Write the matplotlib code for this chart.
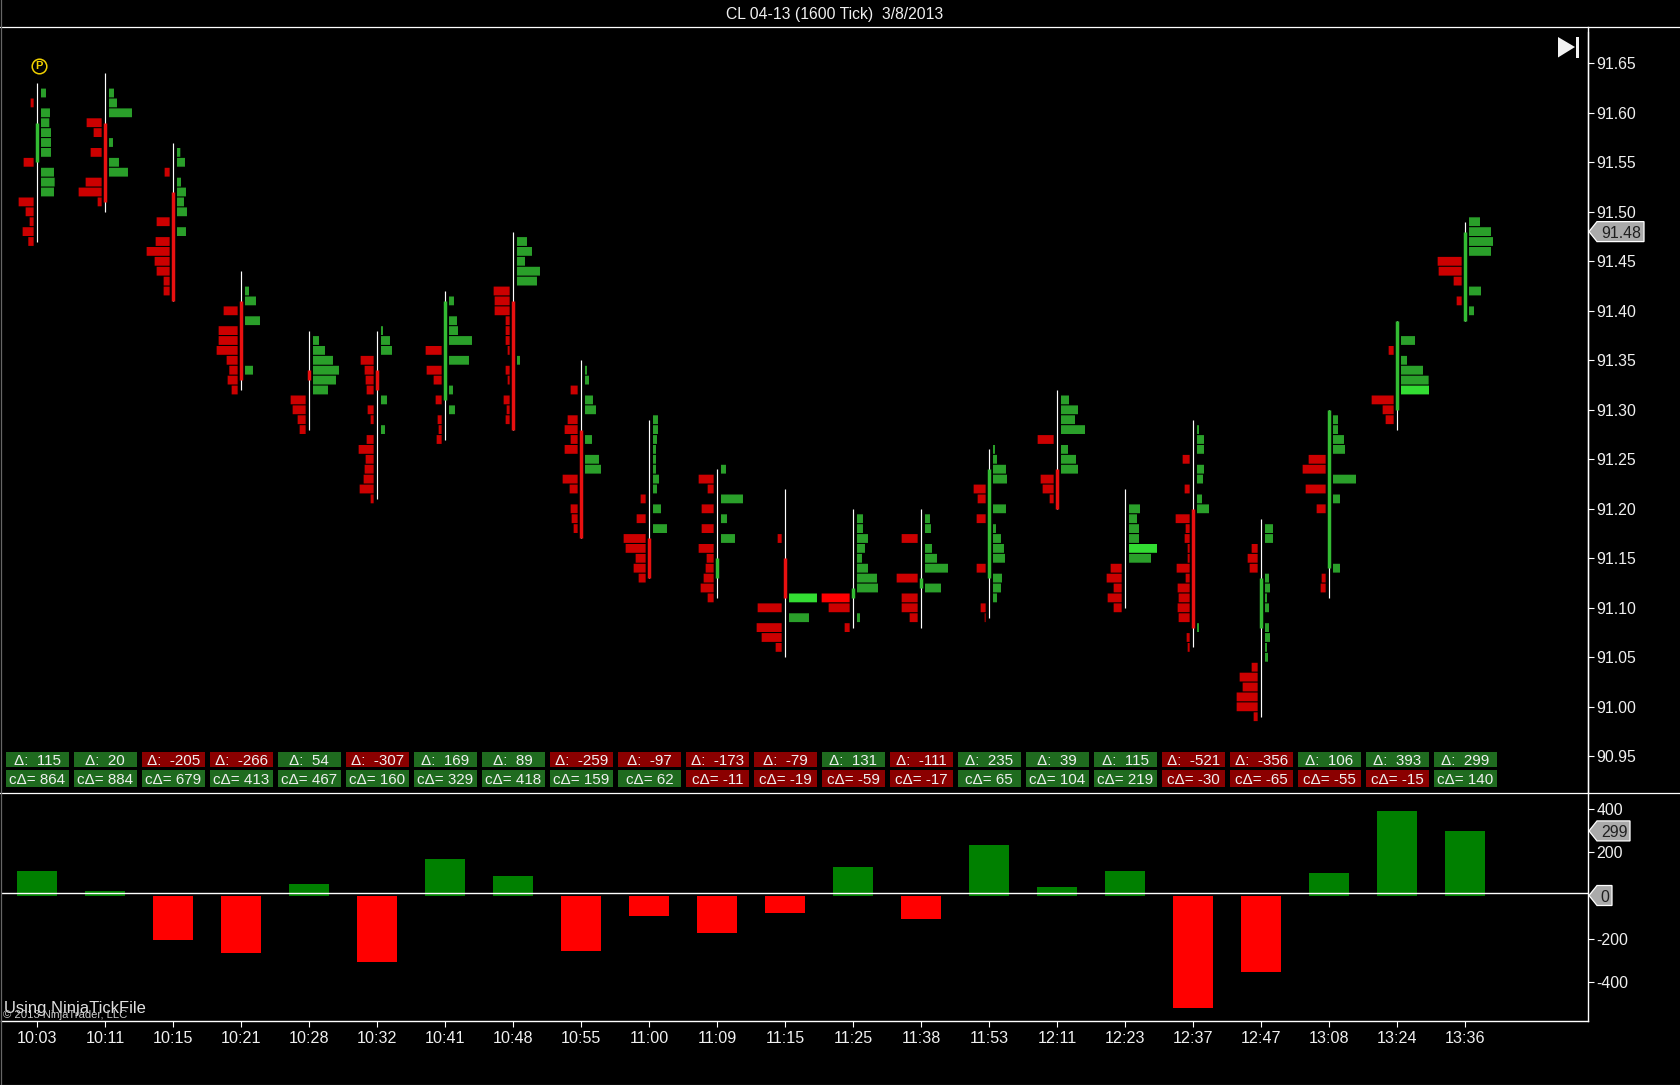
import matplotlib
matplotlib.use("Agg")
import matplotlib.pyplot as plt
from matplotlib.lines import Line2D
from matplotlib.patches import Polygon, Rectangle
from matplotlib.transforms import IdentityTransform, blended_transform_factory

plt.rcParams['font.family'] = ['Liberation Sans', 'DejaVu Sans']

times = ["10:03", "10:11", "10:15", "10:21", "10:28", "10:32", "10:41", "10:48", "10:55", "11:00", "11:09",
         "11:15", "11:25", "11:38", "11:53", "12:11", "12:23", "12:37", "12:47", "13:08", "13:24", "13:36"]
delta = [115, 20, -205, -266, 54, -307, 169, 89, -259, -97, -173, -79, 131, -111, 235, 39, 115, -521, -356, 106, 393, 299]
cum_delta = [864, 884, 679, 413, 467, 160, 329, 418, 159, 62, -11, -19, -59, -17, 65, 104, 219, -30, -65, -55, -15, 140]

opens = [91.55, 91.59, 91.52, 91.41, 91.34, 91.34, 91.31, 91.41, 91.28, 91.17, 91.13,
         91.15, 91.11, 91.12, 91.13, 91.24, 91.16, 91.20, 91.08, 91.14, 91.30, 91.39]
closes = [91.59, 91.51, 91.41, 91.33, 91.33, 91.32, 91.41, 91.28, 91.17, 91.13, 91.15,
          91.11, 91.12, 91.13, 91.24, 91.20, 91.16, 91.08, 91.13, 91.30, 91.39, 91.48]
highs = [91.63, 91.64, 91.57, 91.44, 91.38, 91.38, 91.42, 91.48, 91.35, 91.29, 91.24,
         91.22, 91.20, 91.20, 91.26, 91.32, 91.22, 91.29, 91.19, 91.30, 91.39, 91.49]
lows = [91.47, 91.50, 91.41, 91.32, 91.28, 91.21, 91.27, 91.28, 91.17, 91.13, 91.11,
        91.05, 91.08, 91.08, 91.09, 91.20, 91.10, 91.06, 90.99, 91.11, 91.28, 91.39]

ask_rows = [
    {91.62: 15, 91.60: 27, 91.59: 25, 91.58: 30, 91.57: 30, 91.56: 30, 91.54: 39, 91.53: 41, 91.52: 39},
    {91.62: 15, 91.61: 24, 91.60: 69, 91.57: 12, 91.55: 30, 91.54: 57},
    {91.56: 10, 91.55: 24, 91.53: 12, 91.52: 27, 91.51: 21, 91.50: 30, 91.48: 27},
    {91.42: 12, 91.41: 33, 91.39: 45, 91.34: 24},
    {91.37: 18, 91.36: 36, 91.35: 60, 91.34: 78, 91.33: 69, 91.32: 45},
    {91.38: 6, 91.37: 27, 91.36: 33, 91.31: 18, 91.28: 12},
    {91.41: 15, 91.39: 24, 91.38: 27, 91.37: 69, 91.35: 60, 91.32: 12, 91.30: 18},
    {91.47: 30, 91.46: 45, 91.45: 24, 91.44: 69, 91.43: 60, 91.35: 9},
    {91.34: 6, 91.33: 12, 91.31: 24, 91.30: 33, 91.27: 21, 91.25: 42, 91.24: 48},
    {91.29: 15, 91.28: 15, 91.27: 12, 91.26: 9, 91.25: 9, 91.24: 9, 91.23: 18, 91.22: 12, 91.20: 24, 91.18: 42},
    {91.24: 15, 91.21: 66, 91.19: 18, 91.17: 42},
    {91.11: 84, 91.09: 60},
    {91.19: 18, 91.18: 18, 91.17: 33, 91.16: 24, 91.15: 15, 91.14: 33, 91.13: 60, 91.12: 63, 91.09: 9},
    {91.19: 15, 91.18: 18, 91.16: 21, 91.15: 36, 91.14: 69, 91.12: 48},
    {91.26: 6, 91.25: 12, 91.24: 39, 91.23: 42, 91.20: 39, 91.18: 9, 91.17: 24, 91.16: 33, 91.15: 36,
     91.13: 27, 91.12: 24, 91.11: 12},
    {91.31: 24, 91.30: 51, 91.29: 42, 91.28: 72, 91.26: 21, 91.25: 45, 91.24: 51},
    {91.20: 33, 91.19: 24, 91.18: 30, 91.17: 30, 91.16: 84, 91.15: 66},
    {91.28: 6, 91.27: 21, 91.26: 21, 91.24: 21, 91.23: 18, 91.21: 15, 91.20: 36, 91.08: 6},
    {91.18: 24, 91.17: 24, 91.13: 12, 91.12: 15, 91.11: 6, 91.10: 12, 91.08: 12, 91.07: 15, 91.06: 6, 91.05: 9},
    {91.29: 15, 91.28: 15, 91.27: 33, 91.26: 36, 91.23: 69, 91.21: 21, 91.14: 21},
    {91.37: 42, 91.35: 18, 91.34: 66, 91.33: 83, 91.32: 84},
    {91.49: 33, 91.48: 66, 91.47: 72, 91.46: 66, 91.42: 36, 91.40: 15},
]
bid_rows = [
    {91.61: 9, 91.55: 30, 91.51: 45, 91.50: 24, 91.49: 12, 91.48: 33, 91.47: 16},
    {91.59: 45, 91.58: 24, 91.56: 33, 91.53: 48, 91.52: 69, 91.51: 12},
    {91.54: 15, 91.49: 39, 91.47: 42, 91.46: 69, 91.45: 45, 91.44: 39, 91.43: 18, 91.42: 18},
    {91.40: 42, 91.38: 57, 91.37: 57, 91.36: 63, 91.35: 33, 91.34: 25, 91.33: 30, 91.32: 18},
    {91.31: 45, 91.30: 39, 91.29: 24, 91.28: 18},
    {91.35: 39, 91.34: 27, 91.33: 24, 91.32: 21, 91.30: 18, 91.29: 9, 91.27: 21, 91.26: 45, 91.25: 24,
     91.24: 27, 91.23: 30, 91.22: 42, 91.21: 9},
    {91.36: 48, 91.34: 45, 91.33: 24, 91.31: 18, 91.29: 12, 91.28: 9, 91.27: 15},
    {91.42: 48, 91.41: 45, 91.40: 45, 91.39: 12, 91.38: 12, 91.37: 12, 91.36: 6, 91.34: 12, 91.33: 6,
     91.31: 18, 91.30: 9, 91.29: 12},
    {91.32: 21, 91.29: 30, 91.28: 39, 91.27: 21, 91.26: 39, 91.23: 45, 91.22: 24, 91.20: 21, 91.19: 18, 91.18: 12},
    {91.21: 15, 91.19: 27, 91.17: 66, 91.16: 60, 91.15: 30, 91.14: 36, 91.13: 21},
    {91.23: 45, 91.22: 18, 91.20: 36, 91.18: 36, 91.16: 45, 91.15: 21, 91.14: 24, 91.13: 30, 91.12: 39, 91.11: 18},
    {91.17: 12, 91.10: 72, 91.08: 75, 91.07: 60, 91.06: 18},
    {91.11: 84, 91.10: 63, 91.08: 15},
    {91.17: 48, 91.13: 63, 91.11: 48, 91.10: 48, 91.09: 24},
    {91.22: 36, 91.21: 24, 91.19: 27, 91.14: 27, 91.10: 15, 91.09: 3},
    {91.27: 48, 91.23: 39, 91.22: 33, 91.21: 12},
    {91.14: 33, 91.13: 45, 91.12: 24, 91.11: 42, 91.10: 24},
    {91.25: 21, 91.22: 15, 91.19: 42, 91.18: 12, 91.17: 15, 91.16: 6, 91.15: 6, 91.14: 39, 91.13: 12,
     91.12: 36, 91.11: 33, 91.10: 36, 91.09: 33, 91.07: 9, 91.06: 6},
    {91.16: 18, 91.15: 30, 91.14: 24, 91.04: 18, 91.03: 54, 91.02: 45, 91.01: 63, 91.00: 63, 90.99: 12},
    {91.25: 51, 91.24: 69, 91.22: 60, 91.20: 27, 91.13: 12, 91.12: 15},
    {91.36: 15, 91.31: 66, 91.30: 33, 91.29: 24},
    {91.45: 72, 91.44: 69, 91.43: 24, 91.41: 15},
]

price_ticks = [90.95, 91.00, 91.05, 91.10, 91.15, 91.20, 91.25, 91.30, 91.35, 91.40, 91.45, 91.50, 91.55, 91.60, 91.65]
delta_ticks = [-400, -200, 200, 400]
title = "CL 04-13 (1600 Tick)  3/8/2013"
last_price = 91.48

W, H = 1680, 1085
TXT = '#f0f0f0'
FS = 11.4
BOX_FS = 10.9
VOL_SCALE = 204.0
MAX_VOL = 84


def axes_rect(x0, y0, x1, y1):
    return [x0 / W, 1 - y1 / H, (x1 - x0) / W, (y1 - y0) / H]


fig = plt.figure(figsize=(W / 100, H / 100), dpi=100, facecolor='black')
ax = fig.add_axes(axes_rect(1, 27, 1588, 793), facecolor='black')
ax2 = fig.add_axes(axes_rect(1, 793, 1588, 1021), facecolor='black')

xs = list(range(len(times)))
for a in (ax, ax2):
    a.set_xlim(-0.534, 22.804)
    for s in ('top', 'left'):
        a.spines[s].set_visible(False)
    for s in ('right', 'bottom'):
        a.spines[s].set_color('white')
        a.spines[s].set_linewidth(1.0)
    a.yaxis.tick_right()
    a.tick_params(axis='y', colors=TXT, labelsize=FS, length=4.5, width=0.8, pad=1.5, color='white')
ax.spines['bottom'].set_visible(False)
ax.set_ylim(91.65 - 729.7 / 990, 91.65 + 36.3 / 990)
ax.set_yticks(price_ticks)
ax.set_yticklabels([f"{p:.2f}" for p in price_ticks])
ax.set_xticks([])

ax2.set_ylim((895.5 - 1021) / 0.216, (895.5 - 793) / 0.216)
ax2.set_yticks(delta_ticks)
ax2.set_yticklabels([str(v) for v in delta_ticks])
ax2.set_xticks(xs)
ax2.set_xticklabels(times)
ax2.tick_params(axis='x', colors=TXT, labelsize=FS + 0.2, length=4.5, width=0.8, pad=2.5, color='white')

# volume profile rows
ROW_H = 0.0089
GAP = 0.054
for i in xs:
    for p, v in ask_rows[i].items():
        c = '#33dd33' if v >= MAX_VOL else '#2a9f2a'
        bars = ax.barh(p, v / VOL_SCALE, height=ROW_H, left=i + GAP, color=c, linewidth=0, zorder=2)
        bars[0].set_snap(False)
    for p, v in bid_rows[i].items():
        c = '#ff0000' if v >= MAX_VOL else '#cc0000'
        bars = ax.barh(p, -v / VOL_SCALE, height=ROW_H, left=i - GAP, color=c, linewidth=0, zorder=2)
        bars[0].set_snap(False)

# candles
ax.vlines(xs, lows, highs, color='white', linewidth=0.85, zorder=3)
for i in xs:
    if opens[i] != closes[i]:
        c = '#33bb33' if closes[i] > opens[i] else '#e81010'
        ax.vlines(i, min(opens[i], closes[i]), max(opens[i], closes[i]), color=c, linewidth=2.5, zorder=4)

# delta labels
trans = blended_transform_factory(ax.transData, ax.transAxes)
PANEL = 766.0
GREEN_BOX = '#1f6b1f'
RED_BOX = '#8b0000'
for i in xs:
    for val, y0, y1, label in ((delta[i], 752, 767, f"\u0394:  {delta[i]}"),
                               (cum_delta[i], 770, 787, f"c\u0394= {cum_delta[i]}")):
        fy0 = (793 - y1) / PANEL
        fy1 = (793 - y0) / PANEL
        ax.add_patch(Rectangle((i - 0.463, fy0), 0.926, fy1 - fy0, transform=trans,
                               facecolor=GREEN_BOX if val >= 0 else RED_BOX, linewidth=0, zorder=5))
        ax.text(i, (fy0 + fy1) / 2, label, transform=trans, ha='center', va='center_baseline',
                color=TXT, fontsize=BOX_FS, zorder=6)

# delta bars
ax2.bar(xs, delta, width=0.588, color=['#008000' if v >= 0 else '#ff0000' for v in delta], linewidth=0, zorder=2)
ax2.axhline(10, color='white', linewidth=1.0, zorder=3)

# captions
fig.text(4 / W, 1 - 1008 / H, "Using NinjaTickFile", color='#e0e0e0', fontsize=11.85, ha='left', va='center')
fig.text(3 / W, 1 - 1015.5 / H, "\u00a9 2013 NinjaTrader, LLC", color='#c8c8c8', fontsize=8.1, ha='left', va='center')
fig.text(835 / W, 1 - 15 / H, title, color=TXT, fontsize=11.3, ha='center', va='center')

# session marker
ax.plot(0.03, 91.6473, marker='o', ms=10.5, mfc='none', mec='#f0d000', mew=1.1, zorder=6)
ax.text(0.03, 91.6468, "P", color='#f0d000', fontsize=8, fontweight='bold', ha='center', va='center', zorder=6)


def tag(axis, value, text, x1):
    yc = H - axis.transData.transform((0, value))[1]
    fig_y = lambda y: H - y
    pts = [(1589, fig_y(yc)), (1597, fig_y(yc - 10)), (x1, fig_y(yc - 10)), (x1, fig_y(yc + 10)), (1597, fig_y(yc + 10))]
    fig.add_artist(Polygon(pts, closed=True, transform=IdentityTransform(), facecolor='#aaaaaa', edgecolor='white', linewidth=0.9))
    fig.text((1601 + x1 - 3) / 2 / W, 1 - yc / H, text, color='#202020', fontsize=FS, ha='center', va='center_baseline')


tag(ax, last_price, f"{last_price:.2f}", 1644)
tag(ax2, delta[-1], str(delta[-1]), 1630)
tag(ax2, 0, "0", 1612)

# jump-to-end icon
fig.add_artist(Polygon([(1558, H - 37), (1575, H - 47), (1558, H - 57.5)], closed=True, transform=IdentityTransform(),
                       facecolor='#f2f2f2', linewidth=0))
fig.add_artist(Rectangle((1576, H - 57.5), 3, 20.5, transform=IdentityTransform(), facecolor='#f2f2f2', linewidth=0))

# frame lines
for (x0, y0, x1, y1, c) in ((0, 27, W, 27, 'white'), (0, 793, W, 793, 'white'),
                            (1588, 32, 1588, 793, 'white'), (0.5, 0, 0.5, 1085, '#666666'),
                            (0, 1084.5, W, 1084.5, '#555555')):
    fig.add_artist(Line2D([x0 / W, x1 / W], [1 - y0 / H, 1 - y1 / H], color=c, linewidth=0.9))

fig.savefig("out.png", dpi=100, facecolor='black')
